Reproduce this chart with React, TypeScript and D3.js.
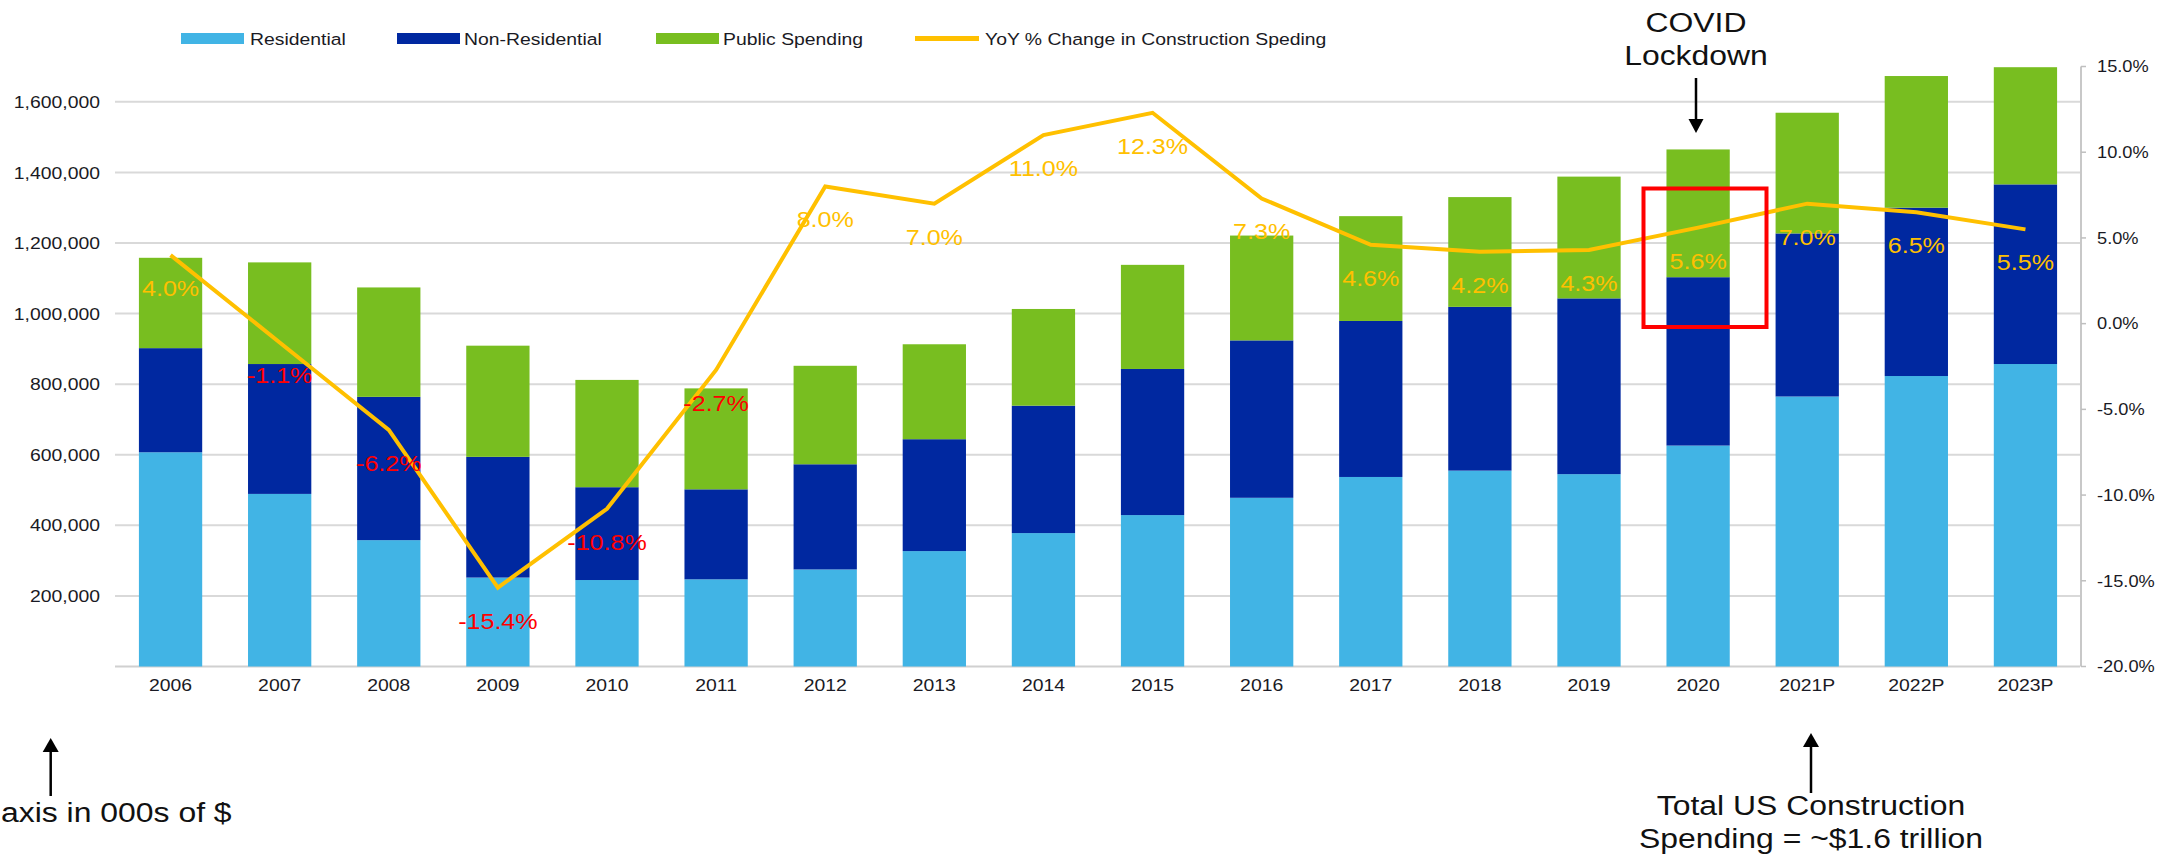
import React from 'react';
import * as d3 from 'd3';

// ---------- data ----------
const years = ['2006', '2007', '2008', '2009', '2010', '2011', '2012', '2013', '2014', '2015', '2016', '2017', '2018', '2019', '2020', '2021P', '2022P', '2023P'];
const residential = [607000, 489000, 358000, 252000, 245000, 247000, 275000, 327000, 378000, 429000, 478000, 537000, 555000, 545000, 626000, 765000, 823000, 857000];
const nonResidential = [295000, 368000, 406000, 342000, 263000, 255000, 298000, 317000, 361000, 414000, 446000, 442000, 464000, 498000, 477000, 462000, 477000, 509000];
const publicSpending = [256000, 288000, 310000, 315000, 304000, 286000, 279000, 269000, 274000, 295000, 297000, 297000, 311000, 345000, 362000, 342000, 373000, 332000];
const yoyChange = [4.0, -1.1, -6.2, -15.4, -10.8, -2.7, 8.0, 7.0, 11.0, 12.3, 7.3, 4.6, 4.2, 4.3, 5.6, 7.0, 6.5, 5.5];
const leftTicks = [200000, 400000, 600000, 800000, 1000000, 1200000, 1400000, 1600000];
const rightTicks = [-20, -15, -10, -5, 0, 5, 10, 15];
const seriesNames = ['Residential', 'Non-Residential', 'Public Spending'];
const lineName = 'YoY % Change in Construction Speding';

// ---------- style ----------
const W = 2177;
const H = 855;
const SX = 1.14;
const FONT = '"Liberation Sans", Arial, Helvetica, sans-serif';
const COLORS = ['#41B4E5', '#0028A0', '#78BE20'];
const LINE = '#FFC000';
const NEG = '#FF0000';
const TXT = '#1a1a24';

const M = { left: 116, right: 2080, top: 66.5, bottom: 666.5 };

function T(props: any) {
  const { x, y, size, fill = TXT, anchor = 'start', sx = SX, children, weight = 'normal' } = props;
  return (
    <text
      transform={`translate(${x},${y}) scale(${sx},1)`}
      fontSize={size}
      fill={fill}
      textAnchor={anchor}
      fontFamily={FONT}
      fontWeight={weight}
    >
      {children}
    </text>
  );
}

function ArrowUp({ x, tip, tail }: any) {
  return (
    <g>
      <line x1={x} x2={x} y1={tip + 10} y2={tail} stroke="#000" strokeWidth={2.5} />
      <path d={`M${x},${tip} L${x - 8},${tip + 14} L${x + 8},${tip + 14} Z`} fill="#000" />
    </g>
  );
}
function ArrowDown({ x, tip, tail }: any) {
  return (
    <g>
      <line x1={x} x2={x} y1={tail} y2={tip - 10} stroke="#000" strokeWidth={2.5} />
      <path d={`M${x},${tip} L${x - 7.5},${tip - 14} L${x + 7.5},${tip - 14} Z`} fill="#000" />
    </g>
  );
}

export default function App() {
  const x = d3.scaleBand<string>().domain(years).range([M.left, M.right]).paddingInner(0.42).paddingOuter(0.21);
  const yL = d3.scaleLinear().domain([0, 1700000]).range([M.bottom, M.top]);
  const yR = d3.scaleLinear().domain([-20, 15]).range([M.bottom, M.top]);

  const rows = years.map((yr, i) => ({
    year: yr,
    Residential: residential[i],
    'Non-Residential': nonResidential[i],
    'Public Spending': publicSpending[i],
  }));
  const stacked = d3.stack<any>().keys(seriesNames)(rows);

  const cx = (yr: string) => (x(yr) as number) + x.bandwidth() / 2;
  const linePath = d3
    .line<number>()
    .x((_, i) => cx(years[i]))
    .y((d) => yR(d))(yoyChange) as string;

  const fmtL = d3.format(',');
  const fmtR = (v: number) => `${v.toFixed(1)}%`;

  const legendSw = [181, 397, 656];
  const legendTx = [250, 464, 723];

  return (
    <svg
      width={W}
      height={H}
      viewBox={`0 0 ${W} ${H}`}
      style={{ position: 'absolute', left: 0, top: 0, display: 'block', background: '#fff' }}
    >
      <rect x={0} y={0} width={W} height={H} fill="#fff" />

      {/* gridlines */}
      {leftTicks.map((t) => (
        <line key={t} x1={M.left - 1} x2={M.right} y1={yL(t)} y2={yL(t)} stroke="#D9D9D9" strokeWidth={2} />
      ))}
      {/* x axis line */}
      <line x1={M.left - 1} x2={M.right} y1={M.bottom} y2={M.bottom} stroke="#D0D0D0" strokeWidth={2} />

      {/* bars */}
      {stacked.map((s, si) => (
        <g key={s.key} fill={COLORS[si]}>
          {s.map((d: any, i: number) => (
            <rect
              key={years[i]}
              x={x(years[i])}
              width={x.bandwidth()}
              y={yL(d[1])}
              height={yL(d[0]) - yL(d[1])}
            />
          ))}
        </g>
      ))}

      {/* right axis */}
      <line x1={M.right + 1} x2={M.right + 1} y1={M.top} y2={M.bottom} stroke="#C8C8C8" strokeWidth={2} />
      {rightTicks.map((t) => (
        <g key={t}>
          <line x1={M.right + 1} x2={M.right + 6} y1={yR(t)} y2={yR(t)} stroke="#BFBFBF" strokeWidth={1.5} />
          <T x={M.right + 17} y={yR(t) + 0.36 * 16} size={16}>
            {fmtR(t)}
          </T>
        </g>
      ))}

      {/* left axis labels */}
      {leftTicks.map((t) => (
        <T key={t} x={100} y={yL(t) + 0.36 * 17} size={17} anchor="end">
          {fmtL(t)}
        </T>
      ))}

      {/* x labels */}
      {years.map((yr) => (
        <T key={yr} x={cx(yr)} y={685.3 + 0.36 * 17} size={17} anchor="middle">
          {yr}
        </T>
      ))}

      {/* line */}
      <path d={linePath} fill="none" stroke={LINE} strokeWidth={4} strokeLinejoin="miter" />

      {/* line labels */}
      {yoyChange.map((v, i) => (
        <T
          key={years[i]}
          x={cx(years[i])}
          y={yR(v) + 33 + 0.36 * 22}
          size={22}
          anchor="middle"
          fill={v < 0 ? NEG : LINE}
        >
          {fmtR(v)}
        </T>
      ))}

      {/* red box */}
      <rect x={1643.5} y={188.5} width={123} height={138.5} fill="none" stroke="#FF0000" strokeWidth={4} />

      {/* legend */}
      {seriesNames.map((n, i) => (
        <g key={n}>
          <rect x={legendSw[i]} y={33} width={63} height={11} fill={COLORS[i]} />
          <T x={legendTx[i]} y={38.5 + 0.36 * 17} size={17}>
            {n}
          </T>
        </g>
      ))}
      <line x1={915} x2={979} y1={38.5} y2={38.5} stroke={LINE} strokeWidth={5} />
      <T x={985} y={38.5 + 0.36 * 17} size={17}>
        {lineName}
      </T>

      {/* annotations */}
      <T x={1696} y={31.7} size={28} anchor="middle" fill="#111">
        COVID
      </T>
      <T x={1696} y={65} size={28} anchor="middle" fill="#111">
        Lockdown
      </T>
      <ArrowDown x={1696} tip={133} tail={78} />

      <ArrowUp x={50.7} tip={738} tail={796} />
      <T x={1} y={821.7} size={28} anchor="start" fill="#111">
        axis in 000s of $
      </T>

      <ArrowUp x={1811} tip={733} tail={793} />
      <T x={1811} y={815} size={28} anchor="middle" fill="#111">
        Total US Construction
      </T>
      <T x={1811} y={848} size={28} anchor="middle" fill="#111">
        Spending = ~$1.6 trillion
      </T>
    </svg>
  );
}
